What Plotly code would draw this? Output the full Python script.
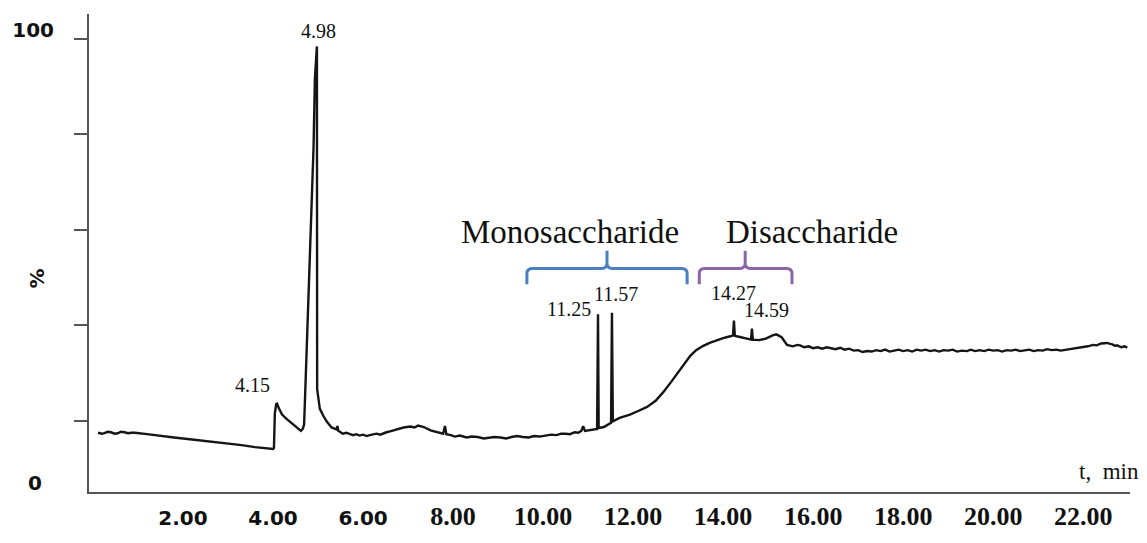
import plotly.graph_objects as go

# ---- data ----
time_min = [0.11, 0.2, 0.25, 0.33, 0.40, 0.48, 0.55, 0.62, 0.70, 0.78, 0.85, 0.93, 1.2, 1.5, 1.8, 2.1, 2.4, 2.7,
            3.0, 3.3, 3.6, 3.9, 4.0,
            4.02, 4.04, 4.07, 4.09, 4.13, 4.2, 4.3, 4.4, 4.5, 4.58, 4.62, 4.66, 4.69, 4.71, 4.76, 4.80, 4.84,
            4.90, 4.93, 4.96, 4.975, 4.98, 5.04, 5.12, 5.19, 5.3, 5.41, 5.43, 5.45, 5.55, 5.63, 5.71, 5.78,
            5.85, 5.92, 6.0, 6.08, 6.15, 6.22, 6.3, 6.38, 6.45, 6.52, 6.6, 6.75, 6.9, 7.05, 7.14, 7.22, 7.35,
            7.5, 7.65, 7.78, 7.82, 7.85, 7.95, 8.04, 8.15, 8.3, 8.42, 8.55, 8.68, 8.8, 8.92, 9.05, 9.18, 9.3,
            9.42, 9.55, 9.68, 9.8, 9.92, 10.05, 10.18, 10.3, 10.4, 10.5, 10.6, 10.7, 10.78, 10.85, 10.89,
            10.93, 11.05, 11.15, 11.20, 11.22, 11.235, 11.35, 11.45, 11.51, 11.53, 11.55, 11.7, 11.93, 12.1,
            12.31, 12.5, 12.67, 12.85, 13.04, 13.27, 13.4, 13.56, 13.7, 13.87, 14.0, 14.16, 14.22, 14.24,
            14.26, 14.35, 14.5, 14.62, 14.64, 14.66, 14.8, 14.95, 15.1, 15.18, 15.3, 15.42, 15.55, 15.65,
            15.71, 15.8, 15.9, 16.0, 16.1, 16.2, 16.3, 16.38, 16.5, 16.6, 16.7, 16.8, 16.9, 17.0, 17.1, 17.2,
            17.3, 17.4, 17.5, 17.6, 17.7, 17.8, 17.9, 18.0, 18.1, 18.2, 18.3, 18.4, 18.5, 18.6, 18.7, 18.8,
            18.9, 19.0, 19.1, 19.2, 19.3, 19.42, 19.5, 19.6, 19.7, 19.8, 19.9, 20.0, 20.1, 20.2, 20.3, 20.4,
            20.5, 20.6, 20.7, 20.8, 20.9, 21.0, 21.1, 21.2, 21.3, 21.4, 21.5, 21.64, 21.75, 21.9, 22.0, 22.1,
            22.22, 22.3, 22.4, 22.5, 22.53, 22.6, 22.65, 22.7, 22.75, 22.85, 22.92, 22.98]
signal_pct = [17.5, 17.3, 17.4, 17.7, 17.6, 17.3, 17.4, 17.7, 17.6, 17.4, 17.5, 17.5, 17.2, 16.8, 16.5, 16.2, 15.9, 15.5,
              15.2, 14.9, 14.5, 14.2, 14.1,
              14.3, 21.5, 23.5, 23.6, 22.6, 21.3, 20.4, 19.6, 18.8, 18.1, 17.9, 18.3, 19.2, 24.6, 39.8, 47.0, 60.3,
              77.3, 91.6, 98.4, 98.4, 26.6, 22.5, 21.0, 19.9, 18.6, 18.2, 18.9, 17.9, 17.3, 17.5, 17.2, 17.0,
              17.2, 16.9, 17.1, 16.8, 17.0, 17.2, 17.3, 17.1, 17.4, 17.6, 17.8, 18.2, 18.6, 18.8, 18.6, 19.0, 18.7,
              18.0, 17.6, 17.3, 18.9, 17.2, 17.0, 16.7, 16.9, 16.5, 16.7, 16.6, 16.3, 16.4, 16.6, 16.5, 16.3, 16.6,
              16.8, 16.6, 16.5, 16.8, 16.7, 16.9, 17.1, 17.0, 17.3, 17.3, 17.2, 17.6, 17.5, 17.9, 18.9,
              17.9, 18.1, 18.2, 18.3, 42.3, 18.5, 18.7, 19.2, 19.6, 42.6, 19.9, 20.6, 21.3, 22.0,
              22.9, 24.2, 26.0, 28.2, 30.7, 33.6, 34.8, 35.7, 36.3, 36.9, 37.3, 37.7, 37.9, 41.0,
              37.8, 37.6, 37.3, 37.0, 39.3, 37.0, 36.9, 37.2, 37.9, 38.1, 37.5, 35.9, 35.6, 35.9,
              35.8, 35.4, 35.6, 35.2, 35.4, 35.1, 35.4, 35.2, 35.0, 35.3, 34.9, 35.1, 34.7, 34.8, 34.4, 34.6,
              34.5, 34.8, 34.6, 34.9, 34.5, 34.7, 34.9, 34.6, 34.8, 34.5, 34.9, 34.7, 34.9, 34.6, 34.8, 34.5,
              34.8, 34.7, 34.9, 34.5, 34.7, 34.6, 34.9, 34.6, 34.8, 34.6, 34.9, 34.7, 34.8, 34.5, 34.8, 34.7,
              34.9, 34.6, 34.8, 34.9, 34.6, 34.8, 34.7, 35.0, 34.8, 34.9, 34.7, 34.9, 35.0, 35.2, 35.4, 35.6,
              35.9, 35.8, 36.2, 36.4, 36.3, 36.1, 36.0, 35.7, 35.8, 35.4, 35.6, 35.3]

x_tick_vals = [2, 4, 6, 8, 10, 12, 14, 16, 18, 20, 22]
x_tick_labels = ["2.00", "4.00", "6.00", "8.00", "10.00", "12.00", "14.00", "16.00", "18.00", "20.00", "22.00"]
y_tick_vals = [20, 40, 60, 80, 100]
y_tick_labels = ["", "", "", "", "100"]

peak_labels = ["4.15", "4.98", "11.25", "11.57", "14.27", "14.59"]
group_names = ["Monosaccharide", "Disaccharide"]
group_start = [9.64, 13.47]
group_end = [13.20, 15.53]
group_mid = [11.42, 14.49]

# ---- figure ----
fig = go.Figure()
fig.add_trace(go.Scatter(x=time_min, y=signal_pct, mode="lines",
                         line=dict(color="#151515", width=2.4), showlegend=False, hoverinfo="skip"))

sans_ticks = {"2.00", "4.00", "6.00"}
tick_text = [f'<span style="font-family:DejaVu Sans;font-size:20px">{t}</span>' if t in sans_ticks else t
             for t in x_tick_labels]

fig.update_layout(
    width=1147, height=543,
    margin=dict(l=89, r=17, t=14, b=41),
    paper_bgcolor="white", plot_bgcolor="white",
    xaxis=dict(range=[-0.089, 23.04], showgrid=False, zeroline=False,
               showline=True, linecolor="#555555", linewidth=2, ticks="",
               tickvals=x_tick_vals, ticktext=tick_text,
               tickfont=dict(family="Liberation Serif", size=26, color="#111", weight="bold")),
    yaxis=dict(range=[5.09, 105.19], showgrid=False, zeroline=False,
               showline=True, linecolor="#555555", linewidth=2,
               ticks="outside", ticklen=13, tickwidth=2, tickcolor="#555555",
               tickvals=y_tick_vals, ticktext=y_tick_labels,
               ticklabelstandoff=16, ticklabelshift=-9,
               tickfont=dict(family="DejaVu Sans", size=20, color="#111", weight="bold")),
)

def px_paper(px, py):
    return (px - 89) / 1041, (502 - py) / 488

serif = "Liberation Serif"
# peak labels (data coordinates)
peak_pos = [(3.54, 27.45), (5.01, 101.7), (10.58, 43.45), (11.62, 46.6), (14.23, 46.7), (14.96, 43.2)]
for lab, (xx, yy) in zip(peak_labels, peak_pos):
    fig.add_annotation(x=xx, y=yy, text=lab, showarrow=False, xanchor="center", yanchor="middle",
                       font=dict(family=serif, size=20, color="#111"))

# group labels and brackets
group_colors = ["#4a7fc1", "#8a66a8"]
group_label_pos = [(10.6, 59.5), (15.98, 59.5)]
y_end, y_bar, y_top = 48.6, 51.9, 55.6
rx, ry = 0.12, 1.1
for name, x0, x1, xm, col, (lx, ly) in zip(group_names, group_start, group_end, group_mid,
                                           group_colors, group_label_pos):
    fig.add_annotation(x=lx, y=ly, text=name, showarrow=False, xanchor="center", yanchor="middle",
                       font=dict(family=serif, size=33, color="#111"))
    path = (f"M {x0},{y_end} L {x0},{y_bar - ry} Q {x0},{y_bar} {x0 + rx},{y_bar} "
            f"L {xm - rx},{y_bar} Q {xm},{y_bar} {xm},{y_bar + ry} L {xm},{y_top} "
            f"M {xm},{y_bar + ry} Q {xm},{y_bar} {xm + rx},{y_bar} "
            f"L {x1 - rx},{y_bar} Q {x1},{y_bar} {x1},{y_bar - ry} L {x1},{y_end}")
    fig.add_shape(type="path", path=path, xref="x", yref="y",
                  line=dict(color=col, width=3))

# axis texts
ax, ay = px_paper(35, 493)
fig.add_annotation(x=ax, y=ay, xref="paper", yref="paper", text="0", showarrow=False,
                   xanchor="center", yanchor="middle",
                   font=dict(family="DejaVu Sans", size=20, color="#111", weight="bold"))
ax, ay = px_paper(37, 284)
fig.add_annotation(x=ax, y=ay, xref="paper", yref="paper", text="%", showarrow=False, textangle=-90,
                   xanchor="center", yanchor="middle",
                   font=dict(family="DejaVu Sans", size=20, color="#111", weight="bold"))
ax, ay = px_paper(1109, 481)
fig.add_annotation(x=ax, y=ay, xref="paper", yref="paper", text="t,\u00a0 min", showarrow=False,
                   xanchor="center", yanchor="middle",
                   font=dict(family=serif, size=23, color="#111"))

fig.write_html("out.html", config={"displayModeBar": False},
               post_script="document.body.style.margin='0px';")
